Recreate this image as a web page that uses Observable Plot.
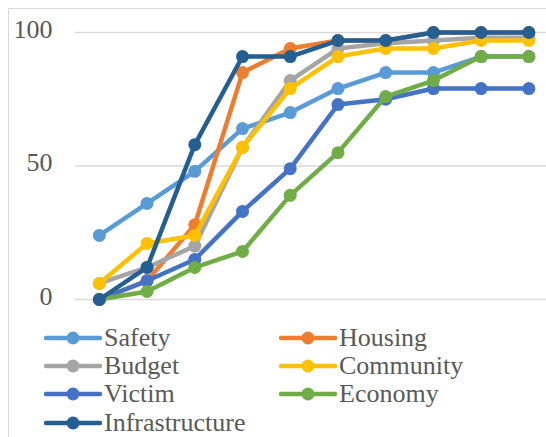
<!DOCTYPE html>
<html>
<head>
<meta charset="utf-8">
<script src="https://cdn.jsdelivr.net/npm/d3@7"></script>
<script src="https://cdn.jsdelivr.net/npm/@observablehq/plot@0.6"></script>
<style>
  html, body { margin: 0; padding: 0; background: #fff; }
  body { width: 546px; height: 437px; position: relative; overflow: hidden; font-family: "Liberation Serif", serif; }
  #frame { position: absolute; left: 8px; top: 8px; width: 600px; height: 500px; border-left: 1.5px solid #d9d9d9; border-top: 1.5px solid #d9d9d9; box-sizing: border-box; }
  #chart { position: absolute; left: 0; top: 0; }
  #legend { position: absolute; left: 0; top: 0; width: 546px; height: 437px; }
  .item { position: absolute; height: 28px; display: flex; align-items: center; color: #595959; font-size: 26px; line-height: 28px; white-space: nowrap; }
  .item svg { flex: none; margin-right: 2px; }
</style>
</head>
<body>
<div id="frame"></div>
<div id="chart"></div>
<div id="legend"></div>
<script>
const steps = [1, 2, 3, 4, 5, 6, 7, 8, 9, 10];
const seriesNames = ["Safety", "Housing", "Budget", "Community", "Victim", "Economy", "Infrastructure"];
const seriesColors = ["#5B9BD5", "#ED7D31", "#A5A5A5", "#FFC000", "#4472C4", "#70AD47", "#255E91"];
const safety =         [24, 36, 48, 64, 70, 79, 85, 85, 91, 91];
const housing =        [0, 7, 28, 85, 94, 97, 97, 100, 100, 100];
const budget =         [6, 12, 20, 57, 82, 94, 96, 97, 98, 98];
const community =      [6, 21, 24, 57, 79, 91, 94, 94, 97, 97];
const victim =         [0, 7, 15, 33, 49, 73, 75, 79, 79, 79];
const economy =        [0, 3, 12, 18, 39, 55, 76, 82, 91, 91];
const infrastructure = [0, 12, 58, 91, 91, 97, 97, 100, 100, 100];
const yTicks = [0, 50, 100];

const seriesValues = [safety, housing, budget, community, victim, economy, infrastructure];
const rows = seriesNames.map((name, i) => steps.map((s, j) => ({series: name, step: s, value: seriesValues[i][j]})));

const marks = [
  Plot.gridY(yTicks, {stroke: "#d9d9d9", strokeOpacity: 1, strokeWidth: 1.5}),
  Plot.axisY(yTicks, {tickSize: 0, tickPadding: 23, fontSize: 26, fill: "#595959", dy: -3, label: null, fontFamily: "Liberation Serif"})
];
rows.forEach((data, i) => {
  marks.push(Plot.line(data, {x: "step", y: "value", stroke: seriesColors[i], strokeWidth: 4.5, strokeLinejoin: "round", strokeLinecap: "round"}));
  marks.push(Plot.dot(data, {x: "step", y: "value", r: 6.5, fill: seriesColors[i], stroke: "none"}));
});

const plot = Plot.plot({
  width: 546,
  height: 310,
  marginLeft: 75,
  marginRight: 0,
  marginTop: 32,
  marginBottom: 11,
  x: {domain: [0.5, 10.37], axis: null},
  y: {domain: [0, 100], axis: null},
  style: {background: "transparent", overflow: "visible", fontFamily: "Liberation Serif"},
  marks
});
document.getElementById("chart").appendChild(plot);

// legend
const legend = document.getElementById("legend");
seriesNames.forEach((name, i) => {
  const col = i % 2, row = Math.floor(i / 2);
  const item = document.createElement("div");
  item.className = "item";
  item.style.left = (col === 0 ? 44 : 279) + "px";
  item.style.top = (324 + row * 28.2) + "px";
  item.innerHTML = `<svg width="58" height="16"><line x1="2" y1="8" x2="56" y2="8" stroke="${seriesColors[i]}" stroke-width="4.5" stroke-linecap="round"/><circle cx="29" cy="8" r="6.5" fill="${seriesColors[i]}"/></svg><span>${name}</span>`;
  legend.appendChild(item);
});
</script>
</body>
</html>
